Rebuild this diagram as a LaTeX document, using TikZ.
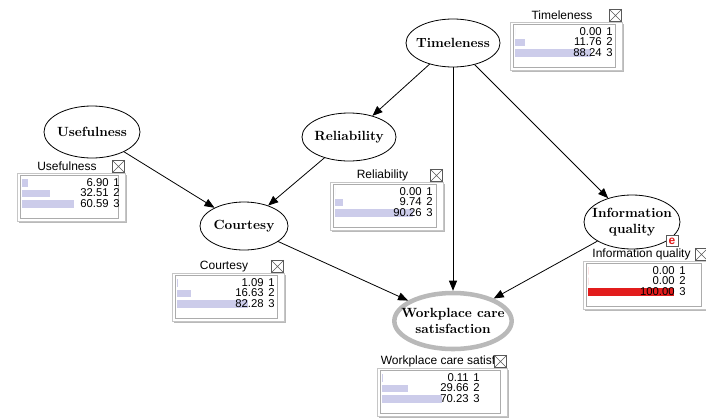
\documentclass[tikz,border=0pt]{standalone}
\usepackage{fontspec}
\newfontfamily\monitorfont{Liberation Sans}
\usepackage{tikz}
\usetikzlibrary{arrows.meta,shapes.geometric,calc}

\definecolor{barlilac}{RGB}{204,204,234}
\definecolor{evidred}{RGB}{226,28,28}

\tikzset{
  varnode/.style={draw, ellipse, inner xsep=-4pt, inner ysep=0pt, font=\bfseries, align=center, line width=0.6pt},
  boxframe/.style={draw=gray!45, fill=white, line width=0.6pt},
  boxpanel/.style={draw=gray!65, line width=0.5pt},
  boxtitle/.style={font={\monitorfont\fontsize{9}{10}\selectfont}, inner sep=0pt},
  boxval/.style={font={\monitorfont\fontsize{8.5}{9}\selectfont}, anchor=east, inner sep=0pt},
  closebox/.style={draw=gray!70!black, fill=white, minimum size=9pt, inner sep=0pt, line width=0.5pt}
}

% belief monitor: name, left, top, width, title, p1, p2, p3, bar colour
\newcommand{\beliefbox}[9]{%
  \fill[gray!55] ({#2+2},{#3+2}) rectangle ({#2+#4+2},{#3+50});
  \draw[boxframe] (#2,#3) rectangle ({#2+#4},{#3+48});
  \draw[boxpanel] ({#2+3},{#3+2}) rectangle ({#2+#4-7},{#3+45});
  \node[boxtitle] (#1-title) at ({#2+#4/2-4},{#3-6.5}) {#5};
  \node[closebox] (#1-close) at ({#2+#4-6.5},{#3-6.5}) {};
  \draw[gray!70!black, line width=0.5pt] (#1-close.north west) -- (#1-close.south east)
    (#1-close.south west) -- (#1-close.north east);
  \fill[#9] ({#2+5},{#3+6}) rectangle ({#2+5+0.86*#6},{#3+13.5});
  \fill[#9] ({#2+5},{#3+16.5}) rectangle ({#2+5+0.86*#7},{#3+24});
  \fill[#9] ({#2+5},{#3+27}) rectangle ({#2+5+0.86*#8},{#3+34.5});
  \node[boxval] (#1-p1) at ({#2+92},{#3+9.5}) {#6};
  \node[boxval] (#1-p2) at ({#2+92},{#3+20}) {#7};
  \node[boxval] (#1-p3) at ({#2+92},{#3+30.5}) {#8};
  \node[boxval] (#1-s1) at ({#2+103},{#3+9.5}) {1};
  \node[boxval] (#1-s2) at ({#2+103},{#3+20}) {2};
  \node[boxval] (#1-s3) at ({#2+103},{#3+30.5}) {3};
}

\begin{document}
\begin{tikzpicture}[
    x=0.75pt, y=-0.75pt,
    link/.style={-{Triangle[length=7.5pt,width=6pt]}, line width=0.6pt}, % arrows between variables
    target node/.style={varnode, draw=gray!55, line width=3.4pt} % outcome variable
]
\useasboundingbox (0,0) rectangle (706,418);

    % Belief monitors
    \beliefbox{timebox}{510}{22}{112}{Timeleness}{0.00}{11.76}{88.24}{barlilac}
    \beliefbox{usebox}{17}{173}{108}{Usefulness}{6.90}{32.51}{60.59}{barlilac}
    \beliefbox{relibox}{330}{182}{113}{Reliability}{0.00}{9.74}{90.26}{barlilac}
    \beliefbox{courtbox}{172}{273}{112}{Courtesy}{1.09}{16.63}{82.28}{barlilac}
    \beliefbox{infobox}{583}{261}{125}{Information quality}{0.00}{0.00}{100.00}{evidred}
    \beliefbox{wcsbox}{377}{368}{130}{Workplace care satisf}{0.11}{29.66}{70.23}{barlilac}

    % Define nodes
    \node (time) [varnode, minimum width=70.5pt, minimum height=36pt] at (453,43) {Timeleness};
    \node (useful) [varnode, minimum width=72pt, minimum height=39pt] at (92,132) {Usefulness};
    \node (reli) [varnode, minimum width=70.5pt, minimum height=36pt] at (349,137) {Reliability};
    \node (court) [varnode, minimum width=66pt, minimum height=36pt] at (244,226) {Courtesy};
    \node (infoq) [varnode, inner xsep=-6pt, minimum width=72pt, minimum height=40.5pt] at (632,222) {Information\\quality};
    \node (wcs) [target node, inner xsep=-10pt, minimum width=88pt, minimum height=42pt] at (453,321) {Workplace care\\satisfaction};

    % Evidence marker
    \node (evid) [draw=gray!70!black, fill=white, line width=0.5pt, minimum width=9pt, minimum height=8pt, inner sep=0pt,
      text=evidred, font={\monitorfont\bfseries\fontsize{9}{9}\selectfont}] at (672,241) {e};

    % Draw edges
    \draw[link] (time) -- (reli);
    \draw[link] (time) -- (wcs);
    \draw[link] (time) -- (infoq);
    \draw[link] (useful) -- (court);
    \draw[link] (reli) -- (court);
    \draw[link] (court) -- (wcs);
    \draw[link] (infoq) -- (wcs);

\end{tikzpicture}
\end{document}
